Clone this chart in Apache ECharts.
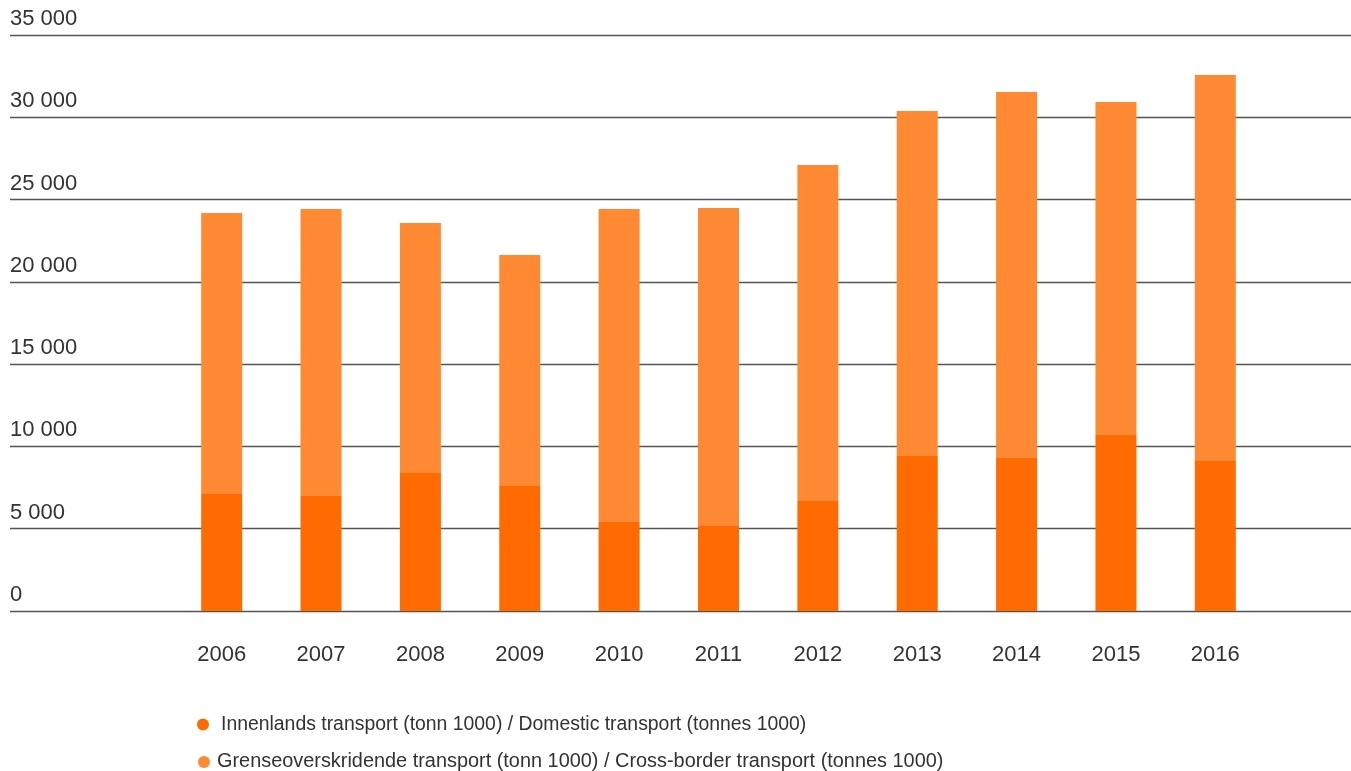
<!DOCTYPE html>
<html>
<head>
<meta charset="utf-8">
<script src="https://cdn.jsdelivr.net/npm/echarts@6/dist/echarts.min.js"></script>
<style>
  html, body { margin: 0; padding: 0; background: #fff; }
  #chart { width: 1351px; height: 771px; }
</style>
</head>
<body>
<div id="chart"></div>
<script>
// transport volumes, 1000 tonnes
const years = ["2006", "2007", "2008", "2009", "2010", "2011", "2012", "2013", "2014", "2015", "2016"];
const domestic = [7110, 6990, 8390, 7600, 5410, 5170, 6690, 9420, 9300, 10690, 9110];
const crossBorder = [17070, 17440, 15190, 14030, 19010, 19320, 20410, 20960, 22230, 20240, 23460];
const yTicks = [0, 5000, 10000, 15000, 20000, 25000, 30000, 35000];

const seriesNames = [
  "Innenlands transport (tonn 1000) / Domestic transport (tonnes 1000)",
  "Grenseoverskridende transport (tonn 1000) / Cross-border transport (tonnes 1000)",
];

const FONT = "Liberation Sans";
const TEXT = "#333";
const yMax = yTicks[yTicks.length - 1];
const yStep = yTicks[1] - yTicks[0];

function legendRow(name, left, top, gap, size) {
  return {
    orient: "horizontal",
    left,
    top,
    icon: "circle",
    itemWidth: 12,
    itemHeight: 12,
    textStyle: { color: TEXT, fontSize: size, fontFamily: FONT, padding: [0, 0, 0, gap] },
    data: [name],
  };
}

const chart = echarts.init(document.getElementById("chart"), null, { renderer: "canvas" });

chart.setOption({
  animation: false,
  color: ["#ff6b00", "#ff8a33"],
  textStyle: { fontFamily: FONT },
  grid: [
    // full-width grid for the horizontal rules and value labels
    { left: 10, right: 0, top: 35, bottom: 160 },
    // bars sit in a narrower band
    { left: 172, width: 1093, top: 35, bottom: 160 },
  ],
  legend: [
    legendRow(seriesNames[0], 192, 710, 7, 19.4),
    legendRow(seriesNames[1], 193, 747, 2, 19.9),
  ],
  xAxis: [
    { gridIndex: 0, type: "value", min: 0, max: 1, show: false },
    {
      gridIndex: 1,
      type: "category",
      data: years,
      axisLine: { show: false },
      axisTick: { show: false },
      axisLabel: { color: TEXT, fontSize: 22, fontFamily: FONT, margin: 33 },
    },
  ],
  yAxis: [
    {
      gridIndex: 0,
      type: "value",
      min: 0,
      max: yMax,
      interval: yStep,
      axisLine: { show: false },
      axisTick: { show: false },
      axisLabel: {
        inside: true,
        margin: 0,
        verticalAlign: "bottom",
        padding: [0, 0, 5, 0],
        color: TEXT,
        fontSize: 22,
        fontFamily: FONT,
        formatter: (v) => String(v).replace(/\B(?=(\d{3})+(?!\d))/g, " "),
      },
      splitLine: { lineStyle: { color: "#555", width: 1.3 } },
    },
    { gridIndex: 1, type: "value", min: 0, max: yMax, interval: yStep, show: false, splitLine: { show: false } },
  ],
  series: [
    {
      name: seriesNames[0],
      type: "bar",
      xAxisIndex: 1,
      yAxisIndex: 1,
      stack: "total",
      barWidth: 41,
      data: domestic,
    },
    {
      name: seriesNames[1],
      type: "bar",
      xAxisIndex: 1,
      yAxisIndex: 1,
      stack: "total",
      barWidth: 41,
      data: crossBorder,
    },
  ],
});
</script>
</body>
</html>
